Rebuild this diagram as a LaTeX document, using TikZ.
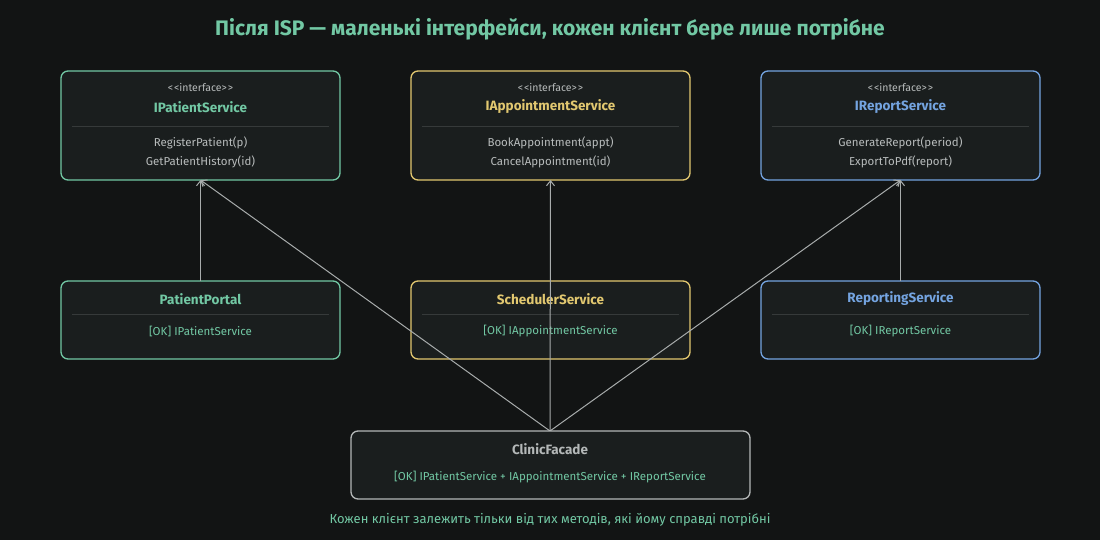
\documentclass[tikz,border=0pt]{standalone}
\usepackage{fontspec}
\setmainfont{Fira Sans}
\usetikzlibrary{arrows.meta}
\definecolor{bg}{HTML}{121414}
\definecolor{boxf}{HTML}{1A1E1E}
\definecolor{cg}{HTML}{72C8A4}
\definecolor{cy}{HTML}{E2C870}
\definecolor{cb}{HTML}{74A4E0}
\definecolor{cgr}{HTML}{B4B8B8}
\definecolor{txt}{HTML}{B8BCBC}
\definecolor{sep}{HTML}{363A3A}
\definecolor{arr}{HTML}{A8ACAC}
\begin{document}
\begin{tikzpicture}[x=1pt,y=-1pt,
  box/.style={draw=#1,line width=1.3pt,rounded corners=7pt,fill=boxf},
  arw/.style={draw=arr,line width=1pt,-{Straight Barb[length=5pt,width=8pt]}},
  small/.style={font=\fontsize{10.5}{12}\selectfont,text=txt},
  meth/.style={font=\fontsize{11.5}{13}\selectfont,text=txt},
  nm/.style={font=\fontsize{13.5}{15}\selectfont\bfseries,text=#1}]
\fill[bg] (0,0) rectangle (1100,540);
\useasboundingbox (0,0) rectangle (1100,540);
\node[font=\fontsize{21}{25}\selectfont\bfseries,text=cg] (title) at (550,29) {Після ISP — маленькі інтерфейси, кожен клієнт бере лише потрібне};
% top row
\foreach \x/\c/\n/\ma/\mb/\id in {61/cg/IPatientService/RegisterPatient(p)/GetPatientHistory(id)/ips,
  411/cy/IAppointmentService/BookAppointment(appt)/CancelAppointment(id)/ias,
  761/cb/IReportService/GenerateReport(period)/ExportToPdf(report)/irs}{
  \draw[box=\c] (\x,71) rectangle (\x+279,180);
  \coordinate (\id) at (\x+139.5,180);
  \node[small] (\id s) at (\x+139.5,87) {<\kern1pt<interface>\kern1pt>};
  \node[nm=\c] (\id n) at (\x+139.5,107) {\n};
  \draw[sep] (\x+11,126.5) -- (\x+268,126.5);
  \node[meth] (\id a) at (\x+139.5,143) {\ma};
  \node[meth] (\id b) at (\x+139.5,162) {\mb};
}
% middle row
\foreach \x/\c/\n/\m/\id in {61/cg/PatientPortal/IPatientService/pp,
  411/cy/SchedulerService/IAppointmentService/ss,
  761/cb/ReportingService/IReportService/rs}{
  \draw[box=\c] (\x,281) rectangle (\x+279,359);
  \coordinate (\id) at (\x+139.5,281);
  \node[nm=\c] (\id n) at (\x+139.5,299) {\n};
  \draw[sep] (\x+11,314.5) -- (\x+268,314.5);
  \node[meth,text=cg] (\id m) at (\x+139.5,331) {[OK] \m};
}
% arrows
\draw[arw] (pp) -- (ips);
\draw[arw] (rs) -- (irs);
\coordinate (cf) at (550,431);
\draw[arw] (cf) -- (ips);
\draw[arw] (cf) -- (ias);
\draw[arw] (cf) -- (irs);
% facade
\draw[box=cgr,fill=boxf] (351,431) rectangle (750,499);
\node[nm=cgr] (cfn) at (550,449) {ClinicFacade};
\node[meth,text=cg] (cfm) at (550,477) {[OK] IPatientService + IAppointmentService + IReportService};
\node[font=\fontsize{13}{15}\selectfont,text=cg] (foot) at (550,520) {Кожен клієнт залежить тільки від тих методів, які йому справді потрібні};
\end{tikzpicture}
\end{document}
